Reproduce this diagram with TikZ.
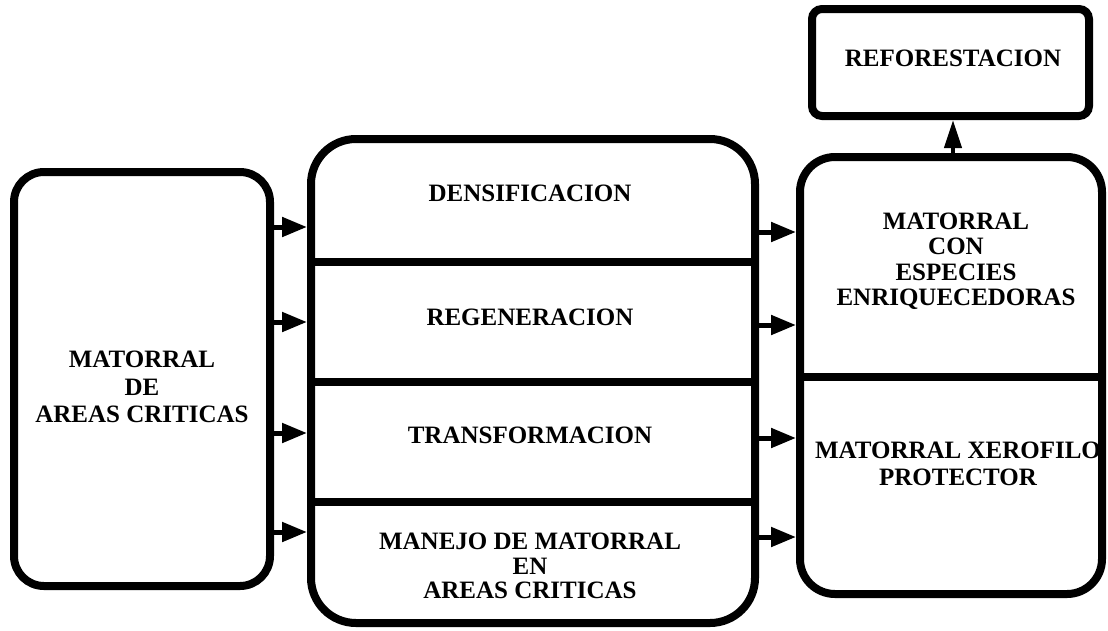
\documentclass[tikz,border=0pt]{standalone}
\usepackage{fontspec}
\setmainfont{Liberation Serif}
\usetikzlibrary{arrows.meta}
\begin{document}
\begin{tikzpicture}[x=1pt,y=-1pt,
  box/.style={draw,line width=8pt,inner sep=0pt},
  lbl/.style={font=\fontsize{25}{27}\selectfont\bfseries,align=center,inner sep=0pt},
  divider/.style={line width=8pt},
  arr/.style={line width=5pt,-{Triangle[length=25pt,width=19pt]}},
  uparr/.style={line width=4pt,-{Triangle[length=28pt,width=17pt]}}]
\useasboundingbox (0,0) rectangle (1108,630);
% boxes
\node[box,rounded corners=30pt,minimum width=256pt,minimum height=414pt] (L) at (142,379) {};
\node[box,rounded corners=45pt,minimum width=444pt,minimum height=484pt] (M) at (533,381) {};
\node[box,rounded corners=35pt,minimum width=302pt,minimum height=437pt] (R) at (951,375.5) {};
\node[box,rounded corners=10pt,minimum width=277pt,minimum height=107pt] (F) at (950.5,62.5) {};
% dividers
\coordinate (d1) at (0,262);
\coordinate (d2) at (0,382);
\coordinate (d3) at (0,502);
\coordinate (d4) at (0,377);
\draw[divider] (M.west |- d1) -- (M.east |- d1);
\draw[divider] (M.west |- d2) -- (M.east |- d2);
\draw[divider] (M.west |- d3) -- (M.east |- d3);
\draw[divider] (R.west |- d4) -- (R.east |- d4);
% labels
\node[lbl,font=\fontsize{25}{27.5}\selectfont\bfseries] (tL) at (142,387) {MATORRAL\\DE\\AREAS CRITICAS};
\node[lbl] (t1) at (530,193) {DENSIFICACION};
\node[lbl] (t2) at (530,317) {REGENERACION};
\node[lbl] (t3) at (530,435) {TRANSFORMACION};
\node[lbl,font=\fontsize{25}{24.5}\selectfont\bfseries] (t4) at (530,566) {MANEJO DE MATORRAL\\EN\\AREAS CRITICAS};
\node[lbl,font=\fontsize{25}{25.5}\selectfont\bfseries] (tR1) at (956,261) {MATORRAL\\CON\\ESPECIES\\ENRIQUECEDORAS};
\node[lbl] (tR2) at (958,463.5) {MATORRAL XEROFILO\\PROTECTOR};
\node[lbl] (tF) at (953,58) {REFORESTACION};
% arrows left -> middle
\coordinate (a1) at (0,227);
\coordinate (a2) at (0,322);
\coordinate (a3) at (0,433);
\coordinate (a4) at (0,532);
\draw[arr] (L.east |- a1) -- (M.west |- a1);
\draw[arr] (L.east |- a2) -- (M.west |- a2);
\draw[arr] (L.east |- a3) -- (M.west |- a3);
\draw[arr] (L.east |- a4) -- (M.west |- a4);
% arrows middle -> right
\coordinate (b1) at (0,232);
\coordinate (b2) at (0,325);
\coordinate (b3) at (0,438);
\coordinate (b4) at (0,537);
\draw[arr] (M.east |- b1) -- (R.west |- b1);
\draw[arr] (M.east |- b2) -- (R.west |- b2);
\draw[arr] (M.east |- b3) -- (R.west |- b3);
\draw[arr] (M.east |- b4) -- (R.west |- b4);
% arrow up
\coordinate (c1) at (953,0);
\draw[uparr] (R.north -| c1) -- (F.south -| c1);
\end{tikzpicture}
\end{document}
